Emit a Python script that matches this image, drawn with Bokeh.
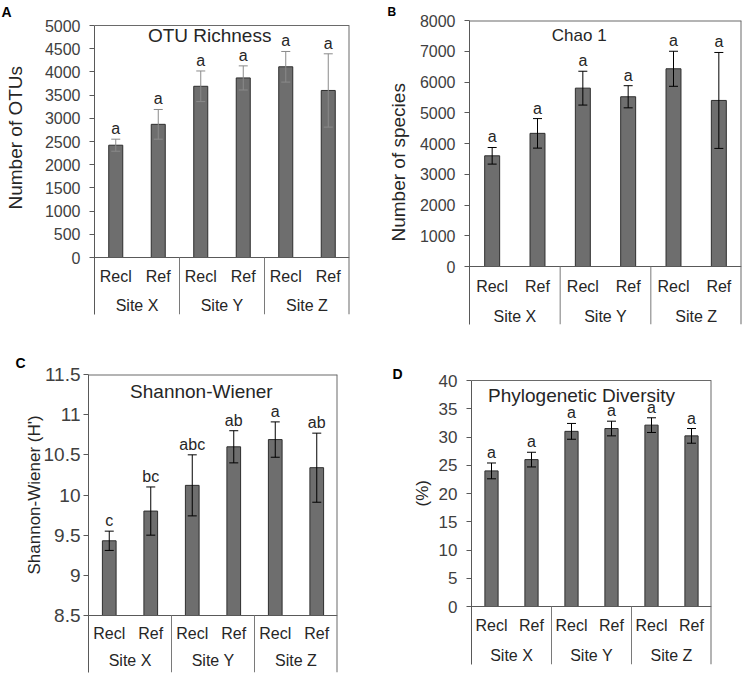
import numpy as np
from bokeh.plotting import figure
from bokeh.models import Range1d, FixedTicker, Title, ColumnDataSource
from bokeh.layouts import column, row
from bokeh.embed import file_html
from bokeh.resources import INLINE
from bokeh.core.properties import value

FONT = "Liberation Sans"

# ---------------- data ----------------
treatments = ["Recl", "Ref", "Recl", "Ref", "Recl", "Ref"]
sites = ["Site X", "Site Y", "Site Z"]

otu_mean = [2420, 2870, 3690, 3870, 4110, 3600]
otu_err = [130, 320, 330, 260, 330, 790]
otu_letters = ["a", "a", "a", "a", "a", "a"]
otu_ticks = [0, 500, 1000, 1500, 2000, 2500, 3000, 3500, 4000, 4500, 5000]
otu_tick_labels = ["0", "500", "1000", "1500", "2000", "2500", "3000", "3500", "4000", "4500", "5000"]

chao_mean = [3600, 4330, 5800, 5520, 6430, 5400]
chao_err = [270, 480, 550, 360, 570, 1560]
chao_letters = ["a", "a", "a", "a", "a", "a"]
chao_ticks = [0, 1000, 2000, 3000, 4000, 5000, 6000, 7000, 8000]
chao_tick_labels = ["0", "1000", "2000", "3000", "4000", "5000", "6000", "7000", "8000"]

shannon_mean = [9.43, 9.80, 10.12, 10.60, 10.69, 10.34]
shannon_err = [0.12, 0.30, 0.38, 0.20, 0.22, 0.43]
shannon_letters = ["c", "bc", "abc", "ab", "a", "ab"]
shannon_ticks = [8.5, 9, 9.5, 10, 10.5, 11, 11.5]
shannon_tick_labels = ["8.5", "9", "9.5", "10", "10.5", "11", "11.5"]

pd_mean = [24.0, 26.0, 31.0, 31.5, 32.1, 30.2]
pd_err = [1.4, 1.3, 1.4, 1.3, 1.3, 1.3]
pd_letters = ["a", "a", "a", "a", "a", "a"]
pd_ticks = [0, 5, 10, 15, 20, 25, 30, 35, 40]
pd_tick_labels = ["0", "5", "10", "15", "20", "25", "30", "35", "40"]

# ---------------- styles ----------------
BAR_FILL = "#6e6e6e"
BAR_LINE = "#2e2e2e"
AXC = "#595959"
BORDER = "#6a6a6a"
SEP = "#7a7a7a"
TXT = "#262626"
TICKTXT = "#404040"


def make_panel(cfg):
    means, errs, letters = cfg["means"], cfg["errs"], cfg["letters"]
    ticks, tick_labels = cfg["ticks"], cfg["tick_labels"]
    base, ymax = ticks[0], ticks[-1]
    fh, fw, base_px, pad = cfg["frame_h"], cfg["frame_w"], cfg["base_px"], cfg["top_pad"]
    upp = (ymax - base) / base_px
    yend = ymax + pad * upp
    ystart = base - (fh - pad - base_px) * upp
    n = len(means)
    xs = [i + 0.5 for i in range(n)]

    p = figure(frame_width=fw, frame_height=fh,
               min_border_left=cfg["bl"], min_border_right=cfg["br"],
               min_border_top=cfg["bt"], min_border_bottom=cfg["bb"],
               x_range=Range1d(0, n), y_range=Range1d(ystart, yend),
               x_axis_location=None, output_backend="svg",
               toolbar_location=None, tools="")
    p.grid.visible = False
    p.outline_line_color = None
    p.background_fill_color = "white"
    p.border_fill_color = "white"

    ax = p.yaxis[0]
    ax.ticker = FixedTicker(ticks=ticks)
    ax.major_label_overrides = {t: l for t, l in zip(ticks, tick_labels)}
    ax.bounds = (ystart, ymax)
    ax.major_tick_in = 0
    ax.major_tick_out = 5
    ax.minor_tick_line_color = None
    ax.axis_line_color = AXC
    ax.major_tick_line_color = AXC
    ax.major_label_text_font = FONT
    ax.major_label_text_font_size = cfg["tick_size"]
    ax.major_label_text_color = TICKTXT
    ax.major_label_standoff = cfg["tick_standoff"]

    # blank spacer between the tick labels and the y title
    if cfg["spacer"] > 0:
        p.add_layout(Title(text=" ", text_font_size="1px", standoff=cfg["spacer"]), "left")

    # y axis title (left side, rotated)
    p.add_layout(Title(text=cfg["ylabel"], align="left", offset=cfg["ylab_offset"],
                       standoff=cfg["ylab_standoff"], text_font=FONT,
                       text_font_style="normal", text_font_size=cfg["ylab_size"],
                       text_color=TXT), "left")

    # panel letter
    p.title.text = cfg["letter"]
    p.title.align = "left"
    p.title.offset = cfg["let_offset"]
    p.title.standoff = cfg["let_standoff"]
    p.title.text_font = FONT
    p.title.text_font_style = "bold"
    p.title.text_font_size = cfg["let_size"]
    p.title.text_color = "black"

    # bars
    src = ColumnDataSource(dict(x=xs, top=means,
                                lo=[m - e for m, e in zip(means, errs)],
                                hi=[m + e for m, e in zip(means, errs)]))
    p.vbar(x="x", width=0.33, bottom=base, top="top", source=src,
           fill_color=BAR_FILL, line_color=BAR_LINE, line_width=1)
    # error bars
    p.segment(x0="x", y0="lo", x1="x", y1="hi", source=src,
              line_color=cfg["err_color"], line_width=1)
    p.scatter(x=xs + xs, y=list(src.data["lo"]) + list(src.data["hi"]),
              marker="dash", size=9, line_color=cfg["err_color"], line_width=1)

    # significance letters
    p.text(x=xs, y=[h + 2 * upp for h in src.data["hi"]], text=letters,
           text_font=value(FONT), text_font_size="16px", text_color=TXT,
           text_align="center", text_baseline="bottom")

    # frame lines
    p.segment(x0=[0], y0=[base], x1=[n], y1=[base], line_color=AXC, line_width=1)
    p.segment(x0=[0], y0=[ymax], x1=[n], y1=[ymax], line_color=BORDER,
              line_width=1 if pad > 0 else 2)
    p.segment(x0=[n], y0=[ystart], x1=[n], y1=[ymax], line_color=BORDER, line_width=2)
    ng = len(sites)
    per = n // ng
    bx = [per * (k + 1) for k in range(ng - 1)]
    p.segment(x0=bx, y0=[ystart] * len(bx), x1=bx, y1=[base] * len(bx),
              line_color=SEP, line_width=1)

    # category labels
    p.text(x=xs, y=[base - cfg["cat_dy"] * upp] * n, text=treatments,
           text_font=value(FONT), text_font_size="16px", text_color=TXT,
           text_align="center", text_baseline="middle")
    p.text(x=[per * k + per / 2 for k in range(ng)], y=[base - cfg["site_dy"] * upp] * ng,
           text=sites, text_font=value(FONT), text_font_size="16px", text_color=TXT,
           text_align="center", text_baseline="middle")

    # panel title inside frame
    p.text(x=[cfg["title_x"]], y=[ymax - cfg["title_dy"] * upp], text=[cfg["title"]],
           text_font=value(FONT), text_font_size=cfg["title_size"], text_color=TXT,
           text_align="center", text_baseline="middle")
    return p


pA = make_panel(dict(means=otu_mean, errs=otu_err, letters=otu_letters,
                     ticks=otu_ticks, tick_labels=otu_tick_labels,
                     frame_w=255, frame_h=294, top_pad=5, base_px=232,
                     bl=93, br=32, bt=19, bb=25,
                     tick_size="16px", tick_standoff=9, err_color="#8a8a8a",
                     cat_dy=19, site_dy=48, title="OTU Richness", title_x=2.71, title_dy=10,
                     title_size="19px", ylabel="Number of OTUs", ylab_size="19px",
                     spacer=11, ylab_standoff=4, ylab_offset=105,
                     letter="A", let_offset=-93, let_standoff=1, let_size="14px"))

pB = make_panel(dict(means=chao_mean, errs=chao_err, letters=chao_letters,
                     ticks=chao_ticks, tick_labels=chao_tick_labels,
                     frame_w=272, frame_h=304, top_pad=0, base_px=246,
                     bl=88, br=6, bt=19, bb=15,
                     tick_size="16px", tick_standoff=9, err_color="black",
                     cat_dy=20, site_dy=50, title="Chao 1", title_x=2.42, title_dy=15,
                     title_size="17px", ylabel="Number of species", ylab_size="19px",
                     spacer=5, ylab_standoff=0, ylab_offset=83,
                     letter="B", let_offset=-82, let_standoff=4, let_size="12px"))

pC = make_panel(dict(means=shannon_mean, errs=shannon_err, letters=shannon_letters,
                     ticks=shannon_ticks, tick_labels=shannon_tick_labels,
                     frame_w=249, frame_h=298, top_pad=0, base_px=241,
                     bl=88, br=43, bt=35, bb=1,
                     tick_size="19px", tick_standoff=3, err_color="black",
                     cat_dy=18, site_dy=45, title="Shannon-Wiener", title_x=2.72, title_dy=17,
                     title_size="19px", ylabel="Shannon-Wiener (H')", ylab_size="17px",
                     spacer=0, ylab_standoff=-7, ylab_offset=98,
                     letter="C", let_offset=-73, let_standoff=8, let_size="14px"))

pD = make_panel(dict(means=pd_mean, errs=pd_err, letters=pd_letters,
                     ticks=pd_ticks, tick_labels=pd_tick_labels,
                     frame_w=240, frame_h=290, top_pad=6, base_px=226,
                     bl=91, br=35, bt=35, bb=9,
                     tick_size="17px", tick_standoff=9, err_color="black",
                     cat_dy=18.5, site_dy=48.5, title="Phylogenetic Diversity", title_x=2.75,
                     title_dy=15, title_size="19px", ylabel="(%)", ylab_size="17px",
                     spacer=0, ylab_standoff=7, ylab_offset=158,
                     letter="D", let_offset=-79, let_standoff=-14, let_size="14px"))

layout = column(row(pA, pB), row(pC, pD))

with open("out.html", "w") as f:
    f.write(file_html(layout, INLINE, "Diversity indices"))
